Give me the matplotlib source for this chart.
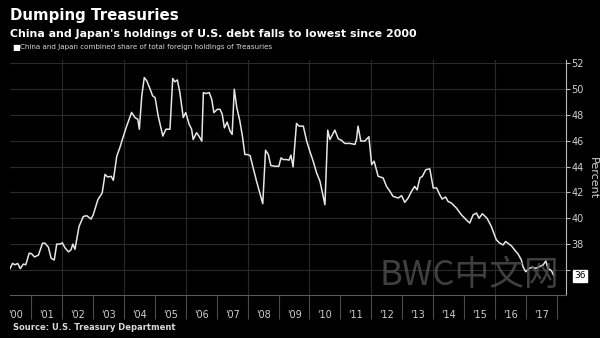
import matplotlib.pyplot as plt
import numpy as np

# share of foreign Treasury holdings, China + Japan (%)
years = [2000.32, 2000.40, 2000.48, 2000.57, 2000.65, 2000.75, 2000.83, 2000.94,
         2001.02, 2001.11, 2001.24, 2001.37, 2001.45, 2001.56, 2001.65, 2001.75,
         2001.83, 2001.94, 2002.01, 2002.10, 2002.21, 2002.29, 2002.35, 2002.42,
         2002.55, 2002.69, 2002.80, 2002.94, 2003.01, 2003.16, 2003.30, 2003.39,
         2003.48, 2003.59, 2003.66, 2003.77, 2003.88, 2003.95, 2004.09, 2004.25,
         2004.36, 2004.45, 2004.50, 2004.58, 2004.66, 2004.74, 2004.85, 2004.93,
         2005.01, 2005.11, 2005.26, 2005.36, 2005.49, 2005.58, 2005.65, 2005.73,
         2005.81, 2005.92, 2006.00, 2006.11, 2006.19, 2006.24, 2006.35, 2006.44,
         2006.52, 2006.57, 2006.65, 2006.76, 2006.84, 2006.91, 2007.02, 2007.11,
         2007.18, 2007.25, 2007.34, 2007.43, 2007.50, 2007.57, 2007.65, 2007.75,
         2007.84, 2007.91, 2007.99, 2008.08, 2008.18, 2008.29, 2008.38, 2008.49,
         2008.58, 2008.67, 2008.75, 2008.88, 2009.01, 2009.08, 2009.15, 2009.26,
         2009.34, 2009.40, 2009.47, 2009.58, 2009.66, 2009.80, 2009.91, 2010.01,
         2010.12, 2010.23, 2010.34, 2010.50, 2010.59, 2010.66, 2010.82, 2010.93,
         2011.04, 2011.14, 2011.31, 2011.47, 2011.52, 2011.57, 2011.66, 2011.79,
         2011.92, 2012.01, 2012.09, 2012.22, 2012.38, 2012.49, 2012.60, 2012.70,
         2012.87, 2012.98, 2013.08, 2013.19, 2013.30, 2013.40, 2013.48, 2013.57,
         2013.65, 2013.76, 2013.89, 2014.00, 2014.11, 2014.21, 2014.29, 2014.40,
         2014.48, 2014.59, 2014.75, 2014.91, 2015.07, 2015.18, 2015.29, 2015.40,
         2015.48, 2015.59, 2015.74, 2015.88, 2016.04, 2016.15, 2016.26, 2016.34,
         2016.53, 2016.63, 2016.74, 2016.85, 2016.90, 2016.99, 2017.10, 2017.21,
         2017.31, 2017.55, 2017.64, 2017.71, 2017.82, 2017.89]
share = [36.1, 36.5, 36.4, 36.5, 36.1, 36.45, 36.4, 37.3,
         37.25, 37.0, 37.15, 38.07, 38.07, 37.76, 36.9, 36.77,
         38.0, 38.0, 38.1, 37.7, 37.4, 37.55, 38.0, 37.6,
         39.36, 40.14, 40.2, 39.94, 40.27, 41.44, 41.96, 43.4,
         43.2, 43.25, 42.94, 44.8, 45.54, 46.1, 47.14, 48.2,
         47.8, 47.67, 46.9, 49.5, 50.9, 50.65, 50.0, 49.48,
         49.35, 47.92, 46.37, 46.9, 46.9, 50.83, 50.57, 50.72,
         49.74, 47.8, 48.19, 47.28, 46.9, 46.1, 46.63, 46.32,
         45.98, 49.74, 49.66, 49.74, 49.22, 48.19, 48.44, 48.44,
         48.05, 47.0, 47.45, 46.76, 46.5, 50.0, 48.58, 47.53,
         46.24, 44.94, 44.94, 44.86, 43.9, 42.86, 42.09, 41.13,
         45.27, 44.94, 44.09, 44.03, 44.03, 44.68, 44.55, 44.55,
         44.5, 44.89, 43.98, 47.35, 47.14, 47.14, 45.98, 45.2,
         44.42, 43.52, 42.86, 41.05, 46.83, 46.1, 46.83, 46.16,
         46.03, 45.8, 45.8, 45.72, 46.1, 47.14, 45.98, 45.98,
         46.32, 44.16, 44.42, 43.25, 43.13, 42.47, 42.09, 41.7,
         41.57, 41.75, 41.23, 41.57, 42.09, 42.47, 42.2, 43.13,
         43.25, 43.77, 43.83, 42.35, 42.35, 41.83, 41.49, 41.65,
         41.3, 41.18, 40.79, 40.27, 39.88, 39.63, 40.27, 40.4,
         40.0, 40.35, 40.0, 39.36, 38.33, 38.07, 37.94, 38.2,
         37.86, 37.55, 37.24, 36.77, 36.25, 35.86, 36.12, 36.2,
         36.12, 36.38, 36.69, 36.12, 35.94, 35.6]

y_ticks = list(range(36, 53, 2))
y_labels = [''] + [str(v) for v in y_ticks[1:]]  # 36 sits under the last-value flag
tick_years = list(range(2001, 2019))
label_pos = [y + 0.5 for y in range(2000, 2018)]
labels = ["'%02d" % (y % 100) for y in range(2000, 2018)]

fig = plt.figure(figsize=(6, 3.38), dpi=100, facecolor='black')
ax = fig.add_axes([0.0167, 0.127, 0.926, 0.695], facecolor='black')

for v in y_ticks:
    ax.axhline(v, color='#2a2a2a', lw=0.8, zorder=0)
for y in range(2002, 2017, 2):
    ax.axvline(y, color='#2a2a2a', lw=0.8, zorder=0)

ax.plot(years, share, color='#e6e6e6', lw=1.1, zorder=3)

ax.set_xlim(2000.32, 2018.28)
ax.set_ylim(34.05, 52.25)

for s in ['top', 'left']:
    ax.spines[s].set_visible(False)
ax.spines['bottom'].set_color('#5a5a5a')
ax.spines['right'].set_color('#bbbbbb')

ax.yaxis.tick_right()
ax.set_yticks(y_ticks)
ax.set_yticklabels(y_labels)
ax.tick_params(axis='y', colors='#bbbbbb', labelcolor='#d0d0d0', labelsize=7,
               length=3, pad=1)
ax.yaxis.set_label_position('right')
ax.set_ylabel('Percent', color='#d0d0d0', fontsize=8, rotation=270, labelpad=10)

ax.set_xticks(tick_years)
ax.set_xticklabels([])
ax.tick_params(axis='x', which='major', color='#4a4a4a', length=17, width=0.8)
ax.set_xticks(label_pos, minor=True)
ax.set_xticklabels(labels, minor=True)
ax.tick_params(axis='x', which='minor', length=0, pad=11, labelsize=7,
               labelcolor='#cfcfcf')

# last value flag
ax.annotate('36', xy=(1.0, 35.55), xycoords=('axes fraction', 'data'),
            xytext=(6, 0), textcoords='offset points', fontsize=6.5,
            color='black', va='center', ha='left',
            bbox=dict(boxstyle='square,pad=0.15', fc='white', ec='white'),
            annotation_clip=False, zorder=5)

fig.text(0.017, 0.955, 'Dumping Treasuries', color='white', fontsize=10.8,
         fontweight='bold', va='center')
fig.text(0.017, 0.9, "China and Japan's holdings of U.S. debt falls to lowest since 2000",
         color='white', fontsize=7.9, fontweight='bold', va='center')
fig.text(0.02, 0.86, '\u25a0', color='white', fontsize=6, va='center')
fig.text(0.034, 0.86, 'China and Japan combined share of total foreign holdings of Treasuries',
         color='#d8d8d8', fontsize=5.1, va='center')
fig.text(0.022, 0.032, 'Source: U.S. Treasury Department', color='#d8d8d8',
         fontsize=6, fontweight='bold', va='center')

fig.text(0.633, 0.185, 'BWC中文网', color='#555555', alpha=0.75, fontsize=25,
         family=['Noto Sans CJK SC', 'DejaVu Sans'], fontweight='light',
         va='center', zorder=10)

fig.savefig('out.png', dpi=100, facecolor='black')
